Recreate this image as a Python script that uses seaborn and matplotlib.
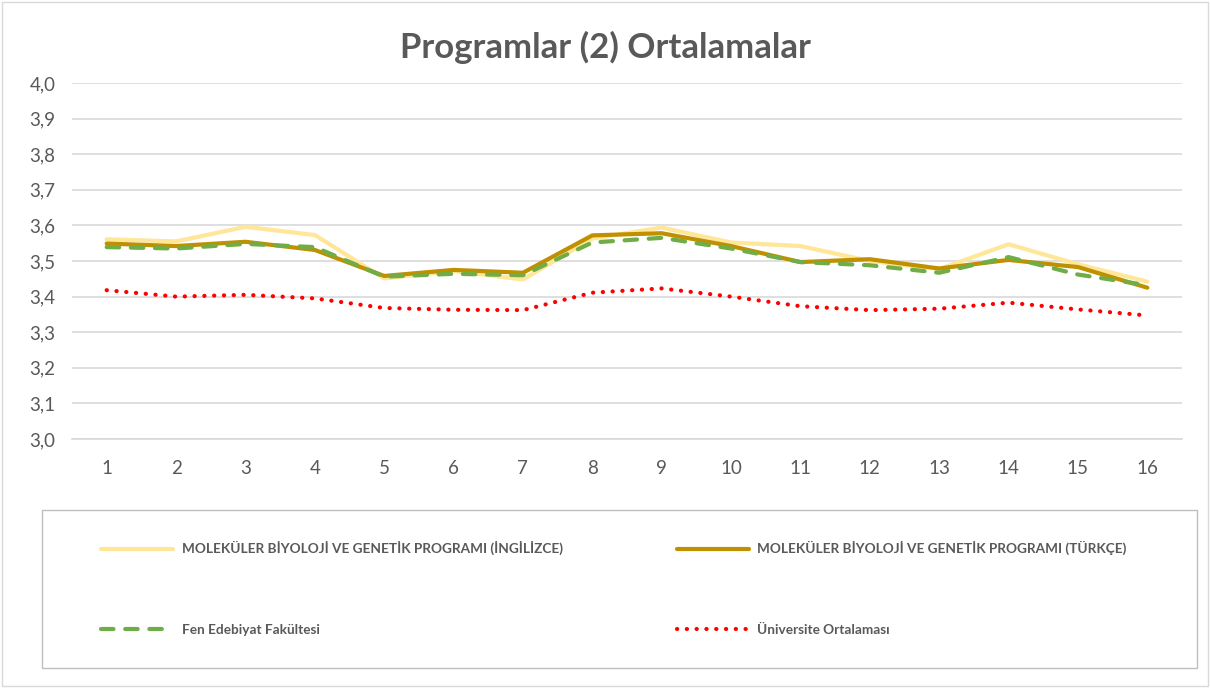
import numpy as np
import pandas as pd
import matplotlib
matplotlib.use("Agg")
import matplotlib.pyplot as plt
from matplotlib.ticker import FuncFormatter, MultipleLocator
from matplotlib.patches import Rectangle
import seaborn as sns

# Dados
donemler = list(range(1, 17))
mbg_ingilizce = [3.561, 3.555, 3.596, 3.573, 3.451, 3.472, 3.448, 3.563,
                 3.594, 3.552, 3.542, 3.500, 3.477, 3.547, 3.491, 3.442]
mbg_turkce = [3.549, 3.542, 3.554, 3.531, 3.458, 3.475, 3.467, 3.572,
              3.578, 3.542, 3.497, 3.505, 3.479, 3.503, 3.483, 3.425]
fen_edebiyat = [3.539, 3.535, 3.548, 3.539, 3.456, 3.464, 3.460, 3.552,
                3.565, 3.535, 3.497, 3.488, 3.467, 3.511, 3.462, 3.432]
universite = [3.418, 3.400, 3.405, 3.395, 3.368, 3.363, 3.362, 3.411,
              3.423, 3.400, 3.373, 3.362, 3.366, 3.383, 3.364, 3.347]

etiketler = ["MOLEKÜLER BİYOLOJİ VE GENETİK PROGRAMI (İNGİLİZCE)",
             "MOLEKÜLER BİYOLOJİ VE GENETİK PROGRAMI (TÜRKÇE)",
             "Fen Edebiyat Fakültesi",
             "Üniversite Ortalaması"]

sns.set_style("white")
plt.rcParams['font.family'] = ['Lato', 'DejaVu Sans']

gri = '#595959'
fig = plt.figure(figsize=(12.1, 6.88), dpi=100)
ax = fig.add_axes([72 / 1210, 1 - 439 / 688, 1110 / 1210, 356 / 688])

# Construção das linhas
sns.lineplot(x=donemler, y=mbg_ingilizce, ax=ax, color='#FFE699', linewidth=3,
             label=etiketler[0], solid_capstyle='round')
sns.lineplot(x=donemler, y=mbg_turkce, ax=ax, color='#BF9000', linewidth=3,
             label=etiketler[1], solid_capstyle='round')
sns.lineplot(x=donemler, y=fen_edebiyat, ax=ax, color='#70AD47', linewidth=3,
             label=etiketler[2])
ax.lines[-1].set_linestyle((0, (3.0, 2.8)))
ax.lines[-1].set_dash_capstyle('round')
sns.lineplot(x=donemler, y=universite, ax=ax, color='#FF0000', linewidth=3,
             label=etiketler[3])
ax.lines[-1].set_linestyle((0, (0.05, 2.3)))
ax.lines[-1].set_dash_capstyle('round')

# Eixos
ax.set_xlim(0.5, 16.5)
ax.set_ylim(3.0, 4.0)
ax.set_xticks(donemler)
ax.xaxis.set_minor_locator(MultipleLocator(1, offset=0.5))
ax.yaxis.set_major_locator(MultipleLocator(0.1))
ax.yaxis.set_major_formatter(FuncFormatter(lambda v, p: f"{v:.1f}".replace('.', ',')))
ax.grid(axis='y', color='#D9D9D9', linewidth=1.2)
for s in ['top', 'right', 'left']:
    ax.spines[s].set_visible(False)
ax.spines['bottom'].set_color('#D9D9D9')
ax.spines['bottom'].set_linewidth(1.2)
ax.tick_params(axis='x', which='major', length=0, labelsize=13.5, labelcolor=gri, pad=15)
ax.tick_params(axis='x', which='minor', length=7, color='#D9D9D9', width=1.2)
ax.tick_params(axis='y', length=0, labelsize=13.5, labelcolor=gri, pad=12)
ax.set_xlabel('')
ax.set_ylabel('')

fig.text(0.5, 1 - 47 / 688, 'Programlar (2) Ortalamalar', ha='center', va='center',
         fontsize=25, fontweight='bold', color=gri)

# Legenda (ordem por coluna: linha 1 = programas, linha 2 = fakülte / üniversite)
handles, labels = ax.get_legend_handles_labels()
ax.get_legend().remove()
ordem = [0, 2, 1, 3]
leg = fig.legend([handles[i] for i in ordem], [labels[i] for i in ordem], ncol=2,
                 loc='upper left', bbox_to_anchor=(70 / 1210, 1 - 668 / 688, 1088 / 1210, 158 / 688),
                 mode='expand', frameon=False, handlelength=5.3, handletextpad=0.6,
                 labelspacing=5.0, borderpad=2.3, borderaxespad=0,
                 prop={'size': 9.8, 'weight': 'bold'})
for t in leg.get_texts():
    t.set_color(gri)

fig.patches.append(Rectangle((42 / 1210, 1 - 668 / 688), 1155 / 1210, 158 / 688,
                             transform=fig.transFigure, fill=False, edgecolor='#BFBFBF', linewidth=1))
fig.patches.append(Rectangle((2 / 1210, 2 / 688), 1206 / 1210, 684 / 688,
                             transform=fig.transFigure, fill=False, edgecolor='#D9D9D9', linewidth=1))

plt.savefig('out.png', dpi=100)
